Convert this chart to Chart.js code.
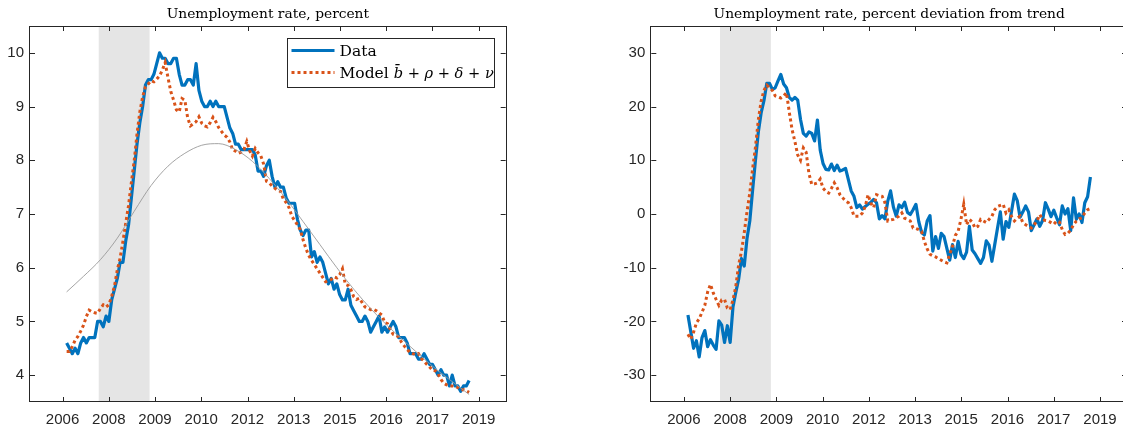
<!DOCTYPE html>
<html>
<head>
<meta charset="utf-8">
<script src="https://cdn.jsdelivr.net/npm/chart.js@4.4.0/dist/chart.umd.min.js"></script>
<style>
  html, body { margin: 0; padding: 0; background: #fff; overflow: hidden; }
  canvas { position: absolute; top: 0; }
  #left { left: 0; }
  #right { left: 560px; }
</style>
</head>
<body>
<canvas id="left" width="560" height="430"></canvas>
<canvas id="right" width="580" height="430"></canvas>
<script>
// monthly data, Jan 2007 - Dec 2018
const startYear = 2007;

const unemployment = [
  4.6, 4.5, 4.4, 4.5, 4.4, 4.6, 4.7, 4.6, 4.7, 4.7, 4.7, 5.0,
  5.0, 4.9, 5.1, 5.0, 5.4, 5.6, 5.8, 6.1, 6.1, 6.5, 6.8, 7.3,
  7.8, 8.3, 8.7, 9.0, 9.4, 9.5, 9.5, 9.6, 9.8, 10.0, 9.9, 9.9,
  9.8, 9.8, 9.9, 9.9, 9.6, 9.4, 9.4, 9.5, 9.5, 9.4, 9.8, 9.3,
  9.1, 9.0, 9.0, 9.1, 9.0, 9.1, 9.0, 9.0, 9.0, 8.8, 8.6, 8.5,
  8.3, 8.3, 8.2, 8.2, 8.2, 8.2, 8.2, 8.1, 7.8, 7.8, 7.7, 7.9,
  8.0, 7.7, 7.5, 7.6, 7.5, 7.5, 7.3, 7.2, 7.2, 7.2, 6.9, 6.7,
  6.6, 6.7, 6.7, 6.2, 6.3, 6.1, 6.2, 6.1, 5.9, 5.7, 5.8, 5.6,
  5.7, 5.5, 5.4, 5.4, 5.6, 5.3, 5.2, 5.1, 5.0, 5.0, 5.1, 5.0,
  4.8, 4.9, 5.0, 5.1, 4.8, 4.9, 4.8, 4.9, 5.0, 4.9, 4.7, 4.7,
  4.7, 4.6, 4.4, 4.4, 4.4, 4.3, 4.3, 4.4, 4.3, 4.2, 4.2, 4.1,
  4.0, 4.1, 4.0, 4.0, 3.8, 4.0, 3.8, 3.8, 3.7, 3.8, 3.8, 3.9
];

const model = [
  4.44, 4.44, 4.53, 4.65, 4.72, 4.82, 4.93, 5.09, 5.21, 5.18, 5.16, 5.15,
  5.24, 5.31, 5.27, 5.31, 5.47, 5.66, 5.96, 6.18, 6.49, 6.83, 7.16, 7.59,
  7.99, 8.49, 8.90, 9.18, 9.37, 9.42, 9.48, 9.46, 9.51, 9.57, 9.68, 9.82,
  9.54, 9.28, 9.12, 8.94, 8.90, 9.15, 9.12, 8.79, 8.64, 8.68, 8.72, 8.81,
  8.69, 8.64, 8.62, 8.70, 8.80, 8.72, 8.61, 8.54, 8.47, 8.43, 8.34, 8.19,
  8.17, 8.13, 8.15, 8.20, 8.35, 8.18, 8.08, 8.22, 8.14, 8.08, 7.93, 7.61,
  7.58, 7.52, 7.48, 7.44, 7.42, 7.28, 7.21, 7.12, 6.96, 6.88, 6.80, 6.71,
  6.52, 6.36, 6.23, 6.14, 6.06, 5.98, 5.90, 5.82, 5.74, 5.76, 5.78, 5.83,
  5.81, 5.87, 5.98, 5.69, 5.67, 5.59, 5.46, 5.41, 5.43, 5.35, 5.27, 5.25,
  5.22, 5.23, 5.20, 5.16, 5.12, 4.98, 4.96, 4.85, 4.76, 4.74, 4.71, 4.61,
  4.54, 4.48, 4.42, 4.40, 4.38, 4.40, 4.31, 4.26, 4.20, 4.15, 4.09, 4.08,
  4.02, 3.92, 3.85, 3.82, 3.80, 3.80, 3.79, 3.77, 3.73, 3.73, 3.71, 3.68
];

const unemploymentDev = [
  -18.8, -21.9, -25.0, -23.6, -26.6, -23.0, -21.7, -24.7, -23.4, -24.4, -25.2, -19.9,
  -20.7, -23.9, -20.8, -23.9, -17.3, -14.6, -12.2, -8.3, -9.7, -4.5, -1.2, 4.6,
  10.1, 15.2, 18.8, 21.1, 24.3, 24.3, 23.2, 23.5, 24.8, 26.0, 24.2, 23.5,
  21.7, 21.2, 21.7, 21.2, 17.6, 15.0, 14.5, 15.3, 15.0, 13.6, 17.5, 11.9,
  9.4, 8.3, 8.2, 9.3, 8.1, 9.1, 8.0, 8.2, 8.5, 6.4, 4.3, 3.3,
  1.2, 1.7, 0.9, 1.4, 1.8, 2.2, 2.7, 2.1, -0.9, -0.3, -0.9, 2.4,
  4.3, 1.3, -0.4, 1.7, 1.2, 2.2, 0.3, -0.1, 0.8, 1.8, -1.4, -3.4,
  -3.9, -1.3, -0.3, -6.9, -4.2, -6.4, -3.6, -4.2, -6.4, -8.6, -5.7, -8.1,
  -5.1, -7.5, -8.3, -7.1, -2.3, -6.7, -7.4, -8.3, -9.2, -8.1, -5.0, -5.8,
  -8.8, -5.7, -2.6, 0.4, -4.7, -1.4, -2.5, 0.6, 3.7, 2.5, -0.6, 0.4,
  1.5, 0.4, -3.1, -2.0, -0.9, -2.3, -1.2, 2.1, 0.9, -0.5, 0.7, -0.7,
  -2.0, 1.5, 0.0, 1.0, -3.1, 3.0, -1.0, 0.0, -1.6, 2.1, 3.2, 6.9
];

const modelDev = [
  -22.4, -23.3, -22.0, -20.3, -19.5, -18.3, -17.0, -14.5, -13.1, -14.7, -15.9, -17.0,
  -16.0, -15.9, -17.5, -17.8, -16.0, -13.5, -9.5, -7.0, -3.5, 0.5, 4.0, 8.5,
  12.5, 17.5, 21.0, 23.0, 24.0, 23.5, 23.0, 22.0, 21.8, 21.6, 22.0, 22.6,
  19.0, 15.7, 13.5, 11.0, 10.0, 12.3, 11.5, 7.5, 5.5, 5.6, 5.8, 6.5,
  4.8, 4.2, 3.9, 4.8, 5.8, 4.9, 3.6, 3.0, 2.4, 2.1, 1.2, -0.4,
  -0.4, -0.4, 0.2, 1.4, 3.6, 2.0, 1.2, 3.6, 3.4, 3.3, 2.1, -1.3,
  -1.1, -1.0, -0.7, -0.4, 0.2, -0.8, -1.0, -1.3, -2.6, -2.7, -2.9, -3.2,
  -5.1, -6.5, -7.5, -7.8, -8.0, -8.3, -8.6, -8.9, -9.1, -7.5, -6.0, -4.0,
  -3.2, -1.0, 1.8, -2.0, -1.0, -1.5, -2.6, -2.3, -1.0, -1.3, -1.6, -1.0,
  -0.4, 0.8, 1.4, 1.6, 1.8, 0.2, 0.8, -0.5, -1.3, -0.8, -0.4, -1.6,
  -2.0, -2.3, -2.6, -2.0, -1.3, -0.1, -1.0, -1.2, -1.3, -1.6, -1.9, -1.3,
  -1.5, -2.9, -3.8, -3.6, -3.0, -2.0, -1.3, -0.9, -0.7, 0.2, 0.8, 1.0
];

// trend read every half year
const trendYears = [2007, 2007.5, 2008, 2008.5, 2009, 2009.5, 2010, 2010.5, 2011, 2011.5, 2012, 2012.5,
  2013, 2013.5, 2014, 2014.5, 2015, 2015.5, 2016, 2016.5, 2017, 2017.5, 2018, 2018.5, 2018.917];
const trendValues = [5.55, 5.84, 6.15, 6.55, 7.05, 7.53, 7.89, 8.13, 8.28, 8.31, 8.20, 7.98,
  7.66, 7.28, 6.86, 6.43, 6.00, 5.60, 5.24, 4.92, 4.63, 4.35, 4.08, 3.84, 3.64];

const recession = [2007.95, 2009.455];

const xTickYears = [2006.879, 2008.248, 2009.617, 2010.986, 2012.355, 2013.724, 2015.093, 2016.462, 2017.831, 2019.2];
const xTickLabels = ['2006', '2008', '2009', '2010', '2012', '2013', '2015', '2016', '2017', '2019'];
const leftYTicks = [4, 5, 6, 7, 8, 9, 10];
const rightYTicks = [-30, -20, -10, 0, 10, 20, 30];

const blue = '#0072BD';
const orange = '#D95319';
const axisColor = '#262626';

const months = unemployment.map((_, i) => startYear + i / 12);
const toPoints = (xs, ys) => xs.map((x, i) => ({ x: x, y: ys[i] }));

const matlabStyle = {
  id: 'matlabStyle',
  beforeDatasetsDraw(chart) {
    const { ctx, chartArea, scales } = chart;
    const x0 = scales.x.getPixelForValue(recession[0]);
    const x1 = scales.x.getPixelForValue(recession[1]);
    ctx.save();
    ctx.fillStyle = '#e5e5e5';
    ctx.fillRect(x0, chartArea.top, x1 - x0, chartArea.bottom - chartArea.top);
    ctx.restore();
  },
  afterDraw(chart, args, opts) {
    const { ctx, chartArea: a, scales } = chart;
    ctx.save();
    ctx.strokeStyle = axisColor;
    ctx.lineWidth = 1;
    ctx.setLineDash([]);
    ctx.strokeRect(Math.round(a.left) - 0.5, Math.round(a.top) + 0.5,
      Math.round(a.right - a.left) + 1, Math.round(a.bottom - a.top) - 1);

    // inward ticks on all four sides
    ctx.beginPath();
    scales.x.ticks.forEach(t => {
      const px = Math.round(scales.x.getPixelForValue(t.value)) + 0.5;
      ctx.moveTo(px, a.bottom); ctx.lineTo(px, a.bottom - 5);
      ctx.moveTo(px, a.top); ctx.lineTo(px, a.top + 5);
    });
    scales.y.ticks.forEach(t => {
      const py = Math.round(scales.y.getPixelForValue(t.value)) + 0.5;
      ctx.moveTo(a.left, py); ctx.lineTo(a.left + 5, py);
      ctx.moveTo(a.right, py); ctx.lineTo(a.right - 5, py);
    });
    ctx.stroke();

    // title
    ctx.fillStyle = '#000';
    ctx.font = '13.8px "DejaVu Serif"';
    ctx.textAlign = 'center';
    ctx.textBaseline = 'alphabetic';
    ctx.fillText(opts.title, (a.left + a.right) / 2, 18);

    if (opts.legend) {
      const bx = Math.round(a.right - 219) + 0.5, by = Math.round(a.top + 12) + 0.5;
      const bw = 207, bh = 49;
      ctx.fillStyle = '#fff';
      ctx.fillRect(bx, by, bw, bh);
      ctx.strokeStyle = axisColor;
      ctx.lineWidth = 1;
      ctx.strokeRect(bx, by, bw, bh);
      const items = chart.data.datasets.filter(d => d.legendOrder !== undefined)
        .sort((p, q) => p.legendOrder - q.legendOrder);
      items.forEach((d, i) => {
        const ry = by + 12 + i * 22;
        ctx.strokeStyle = d.borderColor;
        ctx.lineWidth = d.borderWidth;
        ctx.setLineDash(d.borderDash || []);
        ctx.beginPath();
        ctx.moveTo(bx + 4, ry);
        ctx.lineTo(bx + 47, ry);
        ctx.stroke();
        ctx.setLineDash([]);
        ctx.fillStyle = '#000';
        ctx.textAlign = 'left';
        const parts = d.label.split(/ (.+)/);
        ctx.font = '15.5px "DejaVu Serif"';
        let tx = bx + 52;
        ctx.fillText(parts[0], tx, ry + 5.5);
        if (parts[1]) {
          tx += ctx.measureText(parts[0] + ' ').width;
          ctx.font = 'italic 14.6px "DejaVu Serif"';
          ctx.fillText(parts[1], tx, ry + 5.5);
        }
      });
    }
    ctx.restore();
  }
};

function makeChart(id, datasets, yMin, yMax, yTicks, yWidth, padRight, title, legend) {
  return new Chart(document.getElementById(id), {
    type: 'line',
    data: { datasets: datasets },
    options: {
      responsive: false,
      animation: false,
      devicePixelRatio: 1,
      layout: { padding: { left: 0, right: padRight, top: 26, bottom: 0 } },
      elements: { point: { radius: 0 } },
      plugins: {
        legend: { display: false },
        tooltip: { enabled: false },
        matlabStyle: { title: title, legend: legend }
      },
      scales: {
        x: {
          type: 'linear',
          min: 2005.915,
          max: 2020.0,
          afterBuildTicks: s => { s.ticks = xTickYears.map(v => ({ value: v })); },
          afterFit: s => { s.height = 28; },
          grid: { display: false, drawTicks: false },
          border: { display: false },
          ticks: {
            autoSkip: false,
            maxRotation: 0,
            padding: 9,
            color: axisColor,
            font: { family: 'Liberation Sans', size: 15 },
            callback: (v, i) => xTickLabels[i]
          }
        },
        y: {
          type: 'linear',
          min: yMin,
          max: yMax,
          afterBuildTicks: s => { s.ticks = yTicks.map(v => ({ value: v })); },
          afterFit: s => { s.width = yWidth; },
          grid: { display: false, drawTicks: false },
          border: { display: false },
          ticks: {
            padding: 6,
            color: axisColor,
            font: { family: 'Liberation Sans', size: 15 },
            callback: v => String(v)
          }
        }
      }
    },
    plugins: [matlabStyle]
  });
}

// dataset 0 is drawn on top
makeChart('left', [
  {
    label: 'Trend',
    data: toPoints(trendYears, trendValues),
    borderColor: '#9a9a9a',
    borderWidth: 0.9,
    cubicInterpolationMode: 'monotone',
    fill: false
  },
  {
    label: 'Model b\u0304 + \u03c1 + \u03b4 + \u03bd',
    legendOrder: 1,
    data: toPoints(months, model),
    borderColor: orange,
    borderWidth: 3,
    borderDash: [3, 3],
    borderCapStyle: 'butt',
    fill: false
  },
  {
    label: 'Data',
    legendOrder: 0,
    data: toPoints(months, unemployment),
    borderColor: blue,
    borderWidth: 3.2,
    borderJoinStyle: 'round',
    fill: false
  }
], 3.5, 10.5, leftYTicks, 30, 54.3, 'Unemployment rate, percent', true);

makeChart('right', [
  {
    label: 'Model',
    data: toPoints(months, modelDev),
    borderColor: orange,
    borderWidth: 3,
    borderDash: [3, 3],
    borderCapStyle: 'butt',
    fill: false
  },
  {
    label: 'Data',
    data: toPoints(months, unemploymentDev),
    borderColor: blue,
    borderWidth: 3.2,
    borderJoinStyle: 'round',
    fill: false
  }
], -35, 35, rightYTicks, 91.3, 13, 'Unemployment rate, percent deviation from trend', false);
</script>
</body>
</html>
